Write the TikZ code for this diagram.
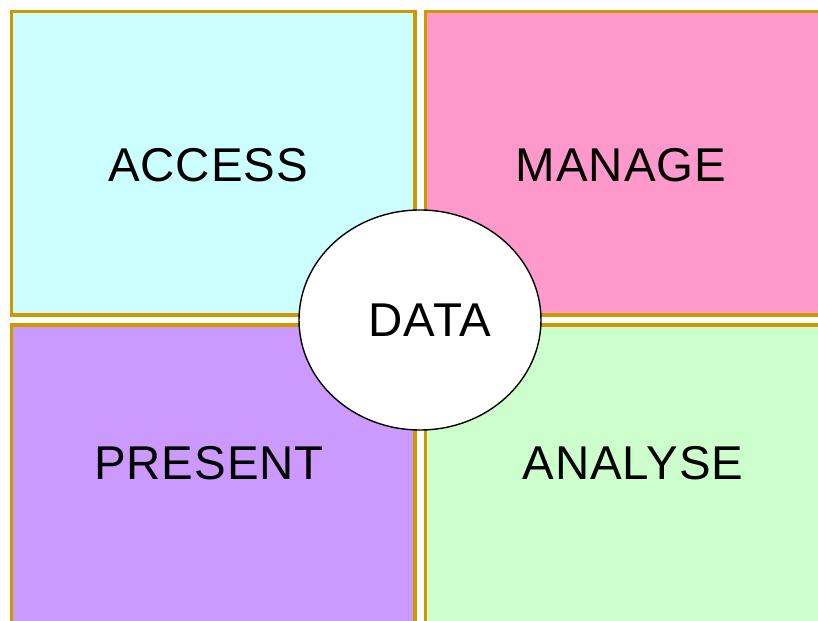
\documentclass[tikz,border=0pt]{standalone}
\usepackage{fontspec}
\setmainfont{Liberation Sans}
\newfontfamily\wordfont[LetterSpace=2]{Liberation Sans}
\definecolor{gold}{HTML}{CC9900}
\definecolor{paleblue}{HTML}{CCFFFF}
\definecolor{rosepink}{HTML}{FF99CC}
\definecolor{lilac}{HTML}{CC99FF}
\definecolor{mint}{HTML}{CCFFCC}
\tikzset{
  quadrant/.style={draw=gold,line width=1.8pt},
  word/.style={font=\wordfont\fontsize{27}{32}\selectfont,text=black},
}

\begin{document}
\begin{tikzpicture}[x=0.02cm,y=-0.02cm]
    \useasboundingbox (0,0) rectangle (818,621);
    \begin{scope}
    \filldraw[quadrant,fill=paleblue]
	(11.5,11.5) rectangle (415,315);
    \filldraw[quadrant,fill=rosepink]
	(425.5,11.5) rectangle (840,315);
    \filldraw[quadrant,fill=lilac]
	(11.5,325) rectangle (415,640);
    \filldraw[quadrant,fill=mint]
	(425.5,325) rectangle (840,640);
    \end{scope}
    \node[word](access) at (208,165) {ACCESS};
    \node[word](manage) at (621,165) {MANAGE};
    \node[word](present) at (209,463) {PRESENT};
    \node[word](analyse) at (633,463) {ANALYSE};
    \draw[fill=white,line width=0.8pt] (420,320) ellipse [x radius=121,y radius=110];
    \node[word](data) at (430,320) {DATA};
\end{tikzpicture}
\end{document}
